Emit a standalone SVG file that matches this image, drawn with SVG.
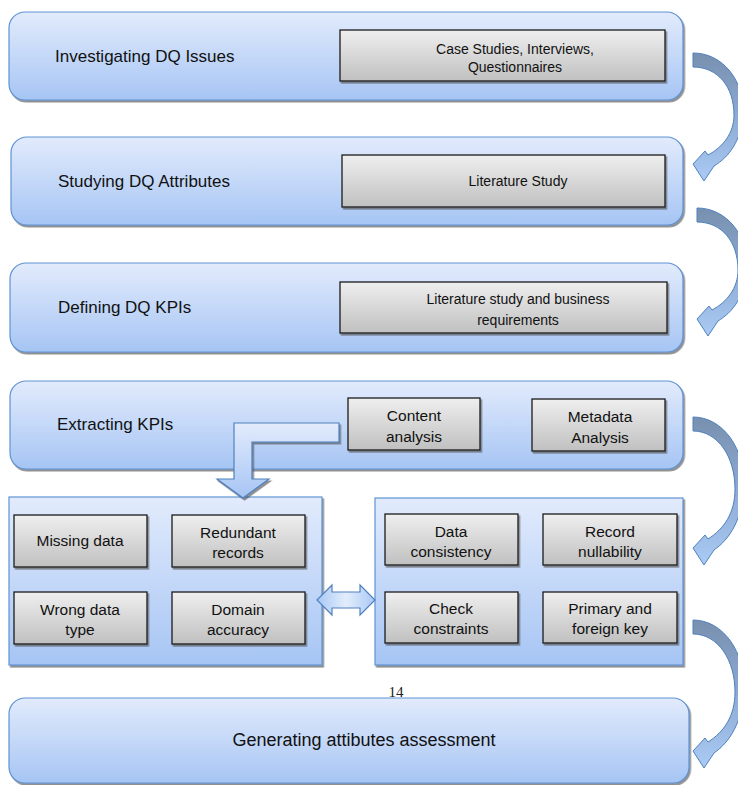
<svg xmlns="http://www.w3.org/2000/svg" width="738" height="785" viewBox="0 0 738 785">
<defs>
<linearGradient id="gBlue" x1="0" y1="0" x2="0" y2="1"><stop offset="0" stop-color="#e2ebfc"/><stop offset="1" stop-color="#a6c5f4"/></linearGradient>
<linearGradient id="gGray" x1="0" y1="0" x2="0" y2="1"><stop offset="0" stop-color="#efefef"/><stop offset="1" stop-color="#c0c0c0"/></linearGradient>
<linearGradient id="gCurve" x1="0" y1="0" x2="0" y2="1"><stop offset="0" stop-color="#7890af"/><stop offset="0.45" stop-color="#8aa7cf"/><stop offset="1" stop-color="#aacbf5"/></linearGradient>
<linearGradient id="gDbl" x1="0" y1="0" x2="1" y2="0"><stop offset="0" stop-color="#a9c8f5"/><stop offset="0.5" stop-color="#e3edfc"/><stop offset="1" stop-color="#a9c8f5"/></linearGradient>
<filter id="sh" x="-5%" y="-5%" width="110%" height="120%"><feDropShadow dx="1.5" dy="2" stdDeviation="0.7" flood-color="#555" flood-opacity="0.65"/></filter>
<path id="curveS" d="M0,0 C30,0 52,28 50,62 C48,88 36,104 21,113 L11,128 L0,111 L12,98 L15,102 C30,94 41,80 41,62 C41,34 25,14 0,14 Z"/>
<path id="curveT" d="M0,0 C30,0 53,32 51,72 C49,102 37,122 21,133 L11,148 L0,131 L12,118 L15,122 C31,112 42,96 42,72 C42,40 25,14 0,14 Z"/>
</defs>
<style>
.box{fill:url(#gBlue);stroke:#5f93d3;stroke-width:1.2;filter:url(#sh)}
.gbox{fill:url(#gGray);stroke:#1a1a1a;stroke-width:1.3;filter:url(#sh)}
.title{font-family:"Liberation Sans",Arial,sans-serif;font-size:17px;fill:#111}
.lbl{font-family:"Liberation Sans",Arial,sans-serif;font-size:14px;fill:#111;text-anchor:middle}
.lbl2{font-family:"Liberation Sans",Arial,sans-serif;font-size:15.5px;fill:#111;text-anchor:middle}
.curve{fill:url(#gCurve);stroke:#4f81bd;stroke-width:1}
.blk{fill:url(#gBlue);stroke:#4f81bd;stroke-width:1.2;filter:url(#sh)}
.dbl{fill:url(#gDbl);stroke:#4f81bd;stroke-width:1.2}
</style>
<rect width="738" height="785" fill="#ffffff"/>

<g id="step1">
<rect class="box" x="9" y="12" width="674" height="88" rx="16"/>
<text class="title" x="55" y="62">Investigating DQ Issues</text>
<rect class="gbox" x="340" y="30" width="325" height="51"/>
<text class="lbl" x="515" y="54">Case Studies, Interviews,</text>
<text class="lbl" x="515" y="72">Questionnaires</text>
</g>

<g id="step2">
<rect class="box" x="11" y="137" width="672" height="88" rx="16"/>
<text class="title" x="58" y="187">Studying DQ Attributes</text>
<rect class="gbox" x="342" y="155" width="323" height="52"/>
<text class="lbl" x="518" y="186">Literature Study</text>
</g>

<g id="step3">
<rect class="box" x="10" y="263" width="673" height="89" rx="16"/>
<text class="title" x="58" y="313">Defining DQ KPIs</text>
<rect class="gbox" x="340" y="282" width="327" height="51"/>
<text class="lbl" x="518" y="304">Literature study and business</text>
<text class="lbl" x="518" y="325">requirements</text>
</g>

<g id="step4">
<rect class="box" x="10" y="381" width="673" height="88" rx="16"/>
<text class="title" x="57" y="430">Extracting KPIs</text>
<rect class="gbox" x="348" y="398" width="132" height="52"/>
<text class="lbl2" x="414" y="421">Content</text>
<text class="lbl2" x="414" y="442">analysis</text>
<rect class="gbox" x="532" y="399" width="133" height="52"/>
<text class="lbl2" x="600" y="422">Metadata</text>
<text class="lbl2" x="600" y="443">Analysis</text>
</g>

<g id="contentGroup">
<rect class="box" x="9" y="497" width="313" height="168"/>
<rect class="gbox" x="14" y="515" width="133" height="52"/>
<text class="lbl2" x="80" y="546">Missing data</text>
<rect class="gbox" x="172" y="515" width="133" height="52"/>
<text class="lbl2" x="238" y="538">Redundant</text>
<text class="lbl2" x="238" y="558">records</text>
<rect class="gbox" x="14" y="592" width="133" height="52"/>
<text class="lbl2" x="80" y="615">Wrong data</text>
<text class="lbl2" x="80" y="635">type</text>
<rect class="gbox" x="172" y="592" width="133" height="52"/>
<text class="lbl2" x="238" y="615">Domain</text>
<text class="lbl2" x="238" y="635">accuracy</text>
</g>

<g id="metadataGroup">
<rect class="box" x="375" y="498" width="308" height="167"/>
<rect class="gbox" x="385" y="514" width="133" height="51"/>
<text class="lbl2" x="451" y="537">Data</text>
<text class="lbl2" x="451" y="557">consistency</text>
<rect class="gbox" x="543" y="514" width="134" height="51"/>
<text class="lbl2" x="610" y="537">Record</text>
<text class="lbl2" x="610" y="557">nullability</text>
<rect class="gbox" x="385" y="592" width="133" height="51"/>
<text class="lbl2" x="451" y="614">Check</text>
<text class="lbl2" x="451" y="634">constraints</text>
<rect class="gbox" x="543" y="592" width="134" height="51"/>
<text class="lbl2" x="610" y="614">Primary and</text>
<text class="lbl2" x="610" y="634">foreign key</text>
</g>

<g id="step5">
<rect class="box" x="9" y="698" width="680" height="85" rx="16"/>
<text class="title" x="364" y="746" text-anchor="middle" style="font-size:18px">Generating attibutes assessment</text>
</g>

<text x="396" y="697" text-anchor="middle" font-family="'Liberation Serif','Times New Roman',serif" font-size="15" fill="#222">14</text>

<g id="connectors">
<use href="#curveS" class="curve" transform="translate(693,53)"/>
<use href="#curveS" class="curve" transform="translate(697,208)"/>
<use href="#curveT" class="curve" transform="translate(693,417)"/>
<use href="#curveT" class="curve" transform="translate(693,620)"/>
<path class="blk" d="M339,423 L234,423 L234,479 L217,479 L243,498 L269,479 L252,479 L252,442 L339,442 Z"/>
<path class="dbl" d="M317,600 L332,585 L332,592 L360,592 L360,585 L375,600 L360,615 L360,608 L332,608 L332,615 Z"/>
</g>
</svg>
